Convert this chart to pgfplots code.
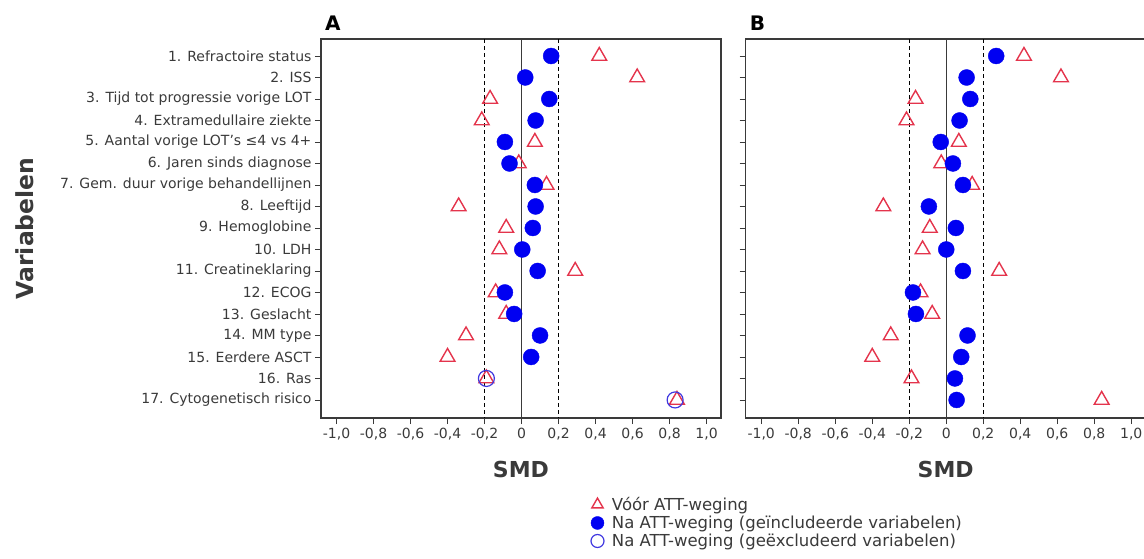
\documentclass[border=0pt]{standalone}
\usepackage{fontspec}
\setmainfont{DejaVu Sans}
\usepackage{pgfplots}
\usepackage{pgfplotstable}
\pgfplotsset{compat=1.18}

\definecolor{trired}{HTML}{E4344C}
\definecolor{dotblue}{HTML}{0000F2}
\definecolor{ringblue}{HTML}{4038E0}
\definecolor{axgray}{HTML}{3A3A3A}

% row, SMD before weighting, SMD after weighting
\pgfplotstableread{
row pre post
1  0.42  0.16
2  0.625 0.02
3 -0.17  0.15
4 -0.215 0.076
5  0.072 -0.09
6 -0.015 -0.065
7  0.135 0.072
8 -0.34  0.076
9 -0.083 0.061
10 -0.12 0.004
11 0.29  0.087
12 -0.14 -0.09
13 -0.083 -0.04
14 -0.30 0.10
15 -0.40 0.052
16 -0.19 nan
17 0.84  nan
}\dataA
\pgfplotstableread{
row post
16 -0.19
17 0.83
}\exclA
\pgfplotstableread{
row pre post
1  0.42  0.27
2  0.62  0.11
3 -0.166 0.13
4 -0.215 0.072
5  0.068 -0.03
6 -0.027 0.036
7  0.14  0.09
8 -0.34 -0.094
9 -0.089 0.052
10 -0.128 0.0
11 0.286 0.09
12 -0.139 -0.18
13 -0.076 -0.164
14 -0.30 0.115
15 -0.40 0.081
16 -0.188 0.047
17 0.84 0.056
}\dataB

\pgfplotsset{
  smd/.style={
    scale only axis, width=400pt, height=379pt,
    xmin=-1.084, xmax=1.078, ymin=0.21, ymax=17.84, y dir=reverse,
    axis line style={axgray, line width=1.3pt},
    xtick={-1,-0.8,-0.6,-0.4,-0.2,0,0.2,0.4,0.6,0.8,1},
    xticklabels={{-1,0},{-0,8},{-0,6},{-0,4},{-0,2},0,{0,2},{0,4},{0,6},{0,8},{1,0}},
    ytick={1,...,17},
    tick align=outside, xtick pos=bottom, ytick pos=left,
    major tick length=6pt, tick style={axgray, line width=0.9pt},
    tick label style={font=\fontsize{14}{16}\selectfont, text=axgray},
    xticklabel style={yshift=-1pt},
    xlabel={SMD},
    xlabel style={font=\fontsize{22}{26}\selectfont\bfseries, text=axgray,
      at={(axis description cs:0.5,-0.137)}, anchor=center},
    title style={at={(axis description cs:0,1)}, anchor=south west,
      font=\fontsize{20}{24}\selectfont\bfseries, xshift=2pt, inner sep=2pt},
    tri/.style={only marks, mark=triangle, mark size=8.5pt,
      mark options={draw=trired, line width=1.4pt, fill=none}},
    dot/.style={only marks, mark=*, mark size=8pt,
      mark options={draw=dotblue, fill=dotblue}},
    ring/.style={only marks, mark=o, mark size=8pt,
      mark options={draw=ringblue, line width=1.2pt}},
  },
}

\begin{document}
\begin{tikzpicture}
\useasboundingbox (-321pt,-140pt) rectangle (823pt,418pt);
\begin{axis}[smd, title={A},
    yticklabels={1. Refractoire status, 2. ISS, 3. Tijd tot progressie vorige LOT,
      4. Extramedullaire ziekte, 5. Aantal vorige LOT’s ≤4 vs 4+,
      6. Jaren sinds diagnose, 7. Gem. duur vorige behandellijnen, 8. Leeftijd,
      9. Hemoglobine, 10. LDH, 11. Creatineklaring, 12. ECOG, 13. Geslacht,
      14. MM type, 15. Eerdere ASCT, 16. Ras, 17. Cytogenetisch risico},
    ylabel={Variabelen},
    ylabel style={font=\fontsize{23.5}{28}\selectfont\bfseries, text=axgray,
      at={(axis description cs:-0.74,0.5)}, anchor=center},
    legend style={at={(axis description cs:0.667,-0.198)}, anchor=north west,
      draw=none, fill=none, font=\fontsize{16.5}{19}\selectfont, text=axgray,
      row sep=0pt, cells={anchor=west},
      /tikz/every odd column/.append style={column sep=6pt}},
    legend image post style={mark size=6.5pt},
  ]
  \addplot[axgray, line width=0.9pt, forget plot] coordinates {(0,0.21) (0,17.84)};
  \addplot[black, line width=0.9pt, dash pattern=on 4pt off 3pt, forget plot] coordinates {(-0.2,0.21) (-0.2,17.84)};
  \addplot[black, line width=0.9pt, dash pattern=on 4pt off 3pt, forget plot] coordinates {(0.2,0.21) (0.2,17.84)};
  \addplot[tri] table[x=pre, y=row] {\dataA};
  \addplot[dot] table[x=post, y=row] {\dataA};
  \addplot[ring] table[x=post, y=row] {\exclA};
  \legend{Vóór ATT-weging, Na ATT-weging (geïncludeerde variabelen), Na ATT-weging (geëxcludeerd variabelen)}
\end{axis}
\begin{axis}[smd, title={B}, at={(424.7pt,0)}, yticklabels={}]
  \addplot[axgray, line width=0.9pt] coordinates {(0,0.21) (0,17.84)};
  \addplot[black, line width=0.9pt, dash pattern=on 4pt off 3pt] coordinates {(-0.2,0.21) (-0.2,17.84)};
  \addplot[black, line width=0.9pt, dash pattern=on 4pt off 3pt] coordinates {(0.2,0.21) (0.2,17.84)};
  \addplot[tri] table[x=pre, y=row] {\dataB};
  \addplot[dot] table[x=post, y=row] {\dataB};
\end{axis}
\end{tikzpicture}
\end{document}
